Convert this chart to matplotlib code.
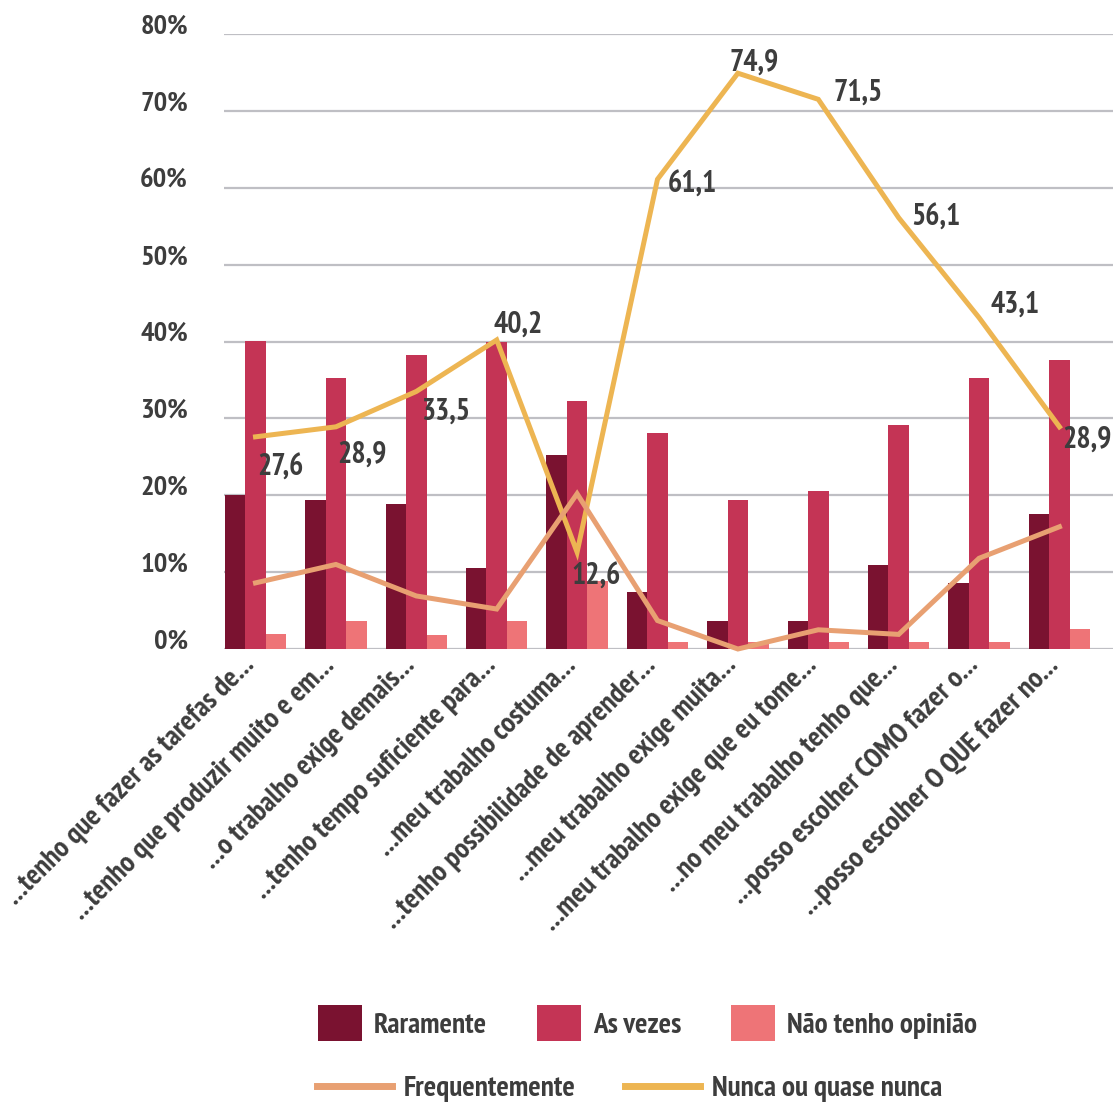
import matplotlib
matplotlib.use("Agg")
import matplotlib.pyplot as plt
import matplotlib.transforms as mtransforms
import numpy as np

plt.rcParams['font.family'] = ['PT Sans Narrow', 'Fira Sans Condensed', 'Roboto Condensed',
                               'Archivo Narrow', 'DejaVu Sans']
plt.rcParams['font.weight'] = 'bold'

categories = [
    "...tenho que fazer as tarefas de...",
    "...tenho que produzir muito e em...",
    "...o trabalho exige demais...",
    "...tenho tempo suficiente para...",
    "...meu trabalho costuma...",
    "...tenho possibilidade de aprender...",
    "...meu trabalho exige muita...",
    "...meu trabalho exige que eu tome...",
    "...no meu trabalho tenho que...",
    "...posso escolher COMO fazer o...",
    "...posso escolher O QUE fazer no...",
]
raramente = [20.0, 19.4, 18.9, 10.5, 25.3, 7.4, 3.6, 3.6, 10.9, 8.6, 17.6]
as_vezes = [40.1, 35.2, 38.3, 40.0, 32.2, 28.1, 19.4, 20.6, 29.2, 35.2, 37.6]
sem_opiniao = [2.0, 3.6, 1.8, 3.6, 8.8, 0.9, 0.9, 0.9, 0.9, 0.9, 2.6]
frequentemente = [8.6, 11.0, 6.9, 5.2, 20.2, 3.7, 0.0, 2.5, 1.9, 11.8, 15.9]
nunca = [27.6, 28.9, 33.5, 40.2, 12.6, 61.1, 74.9, 71.5, 56.1, 43.1, 28.9]
y_ticks = [0, 10, 20, 30, 40, 50, 60, 70, 80]

# where each value label sits relative to its point (pixels)
label_offsets = [(2, -31), (1, -28), (5, -20), (-3, 15), (-6, -25), (10, -5),
                 (-8, 11), (15, 7), (13, 0), (11, 13), (3, -13)]

c_rar = '#7A1230'
c_vez = '#C43455'
c_opi = '#EE7477'
c_freq = '#E8A072'
c_nunca = '#EDB552'
txt = '#3D3D3D'

fig = plt.figure(figsize=(11.13, 11.06), dpi=100)
ax = fig.add_axes([224 / 1113, 1 - 649 / 1106, 1 - 224 / 1113, (649 - 34) / 1106])

x = np.arange(len(categories))
w = 0.255
b1 = ax.bar(x - w, raramente, w, color=c_rar, zorder=2)
b2 = ax.bar(x, as_vezes, w, color=c_vez, zorder=2)
b3 = ax.bar(x + w, sem_opiniao, w, color=c_opi, zorder=2)

l2, = ax.plot(x, nunca, color=c_nunca, lw=3.6, zorder=3, clip_on=False,
              solid_joinstyle='miter')
l1, = ax.plot(x, frequentemente, color=c_freq, lw=3.6, zorder=4, clip_on=False,
              solid_joinstyle='miter')

for xi, v, (dx, dy) in zip(x, nunca, label_offsets):
    ax.annotate(f"{v:.1f}".replace('.', ','), (xi, v), xytext=(dx, dy),
                textcoords='offset pixels', ha='left', va='center',
                fontsize=21.5, color=txt, zorder=5)

ax.set_xlim(-0.392, 10.666)
ax.set_ylim(0, 80)
ax.set_yticks(y_ticks, [f"{t}%" for t in y_ticks])
ax.yaxis.grid(True, color='#BFBFC4', lw=1.6)
ax.set_axisbelow(True)
for s in ax.spines.values():
    s.set_visible(False)
ax.tick_params(axis='y', length=0, pad=26, labelsize=20.5, labelcolor=txt)
ax.tick_params(axis='x', length=0, pad=9, labelsize=21, labelcolor=txt)
ax.set_xticks(x, categories, rotation=45, ha='right', va='center',
              rotation_mode='anchor')

up = mtransforms.ScaledTranslation(0, 10 / 100, fig.dpi_scale_trans)
for lbl in ax.get_yticklabels():
    lbl.set_transform(lbl.get_transform() + up)
left = mtransforms.ScaledTranslation(-5 / 100, 0, fig.dpi_scale_trans)
for lbl in ax.get_xticklabels():
    lbl.set_transform(lbl.get_transform() + left)

fig.legend([b1, b2, b3], ["Raramente", "As vezes", "Não tenho opinião"],
           loc='center left', bbox_to_anchor=(318 / 1113, 1 - 1023 / 1106),
           ncol=3, frameon=False, fontsize=21, labelcolor=txt,
           handlelength=1.51, handleheight=1.51, handletextpad=0.41,
           columnspacing=1.7, borderpad=0, borderaxespad=0)
leg_lines = [plt.Line2D([], [], color=c_freq, lw=5),
             plt.Line2D([], [], color=c_nunca, lw=5)]
fig.legend(leg_lines, ["Frequentemente", "Nunca ou quase nunca"],
           loc='center left', bbox_to_anchor=(317 / 1113, 1 - 1089 / 1106),
           ncol=2, frameon=False, fontsize=21, labelcolor=txt,
           handlelength=2.57, handletextpad=0.41,
           columnspacing=1.7, borderpad=0, borderaxespad=0)

fig.savefig('out.png', dpi=100)
